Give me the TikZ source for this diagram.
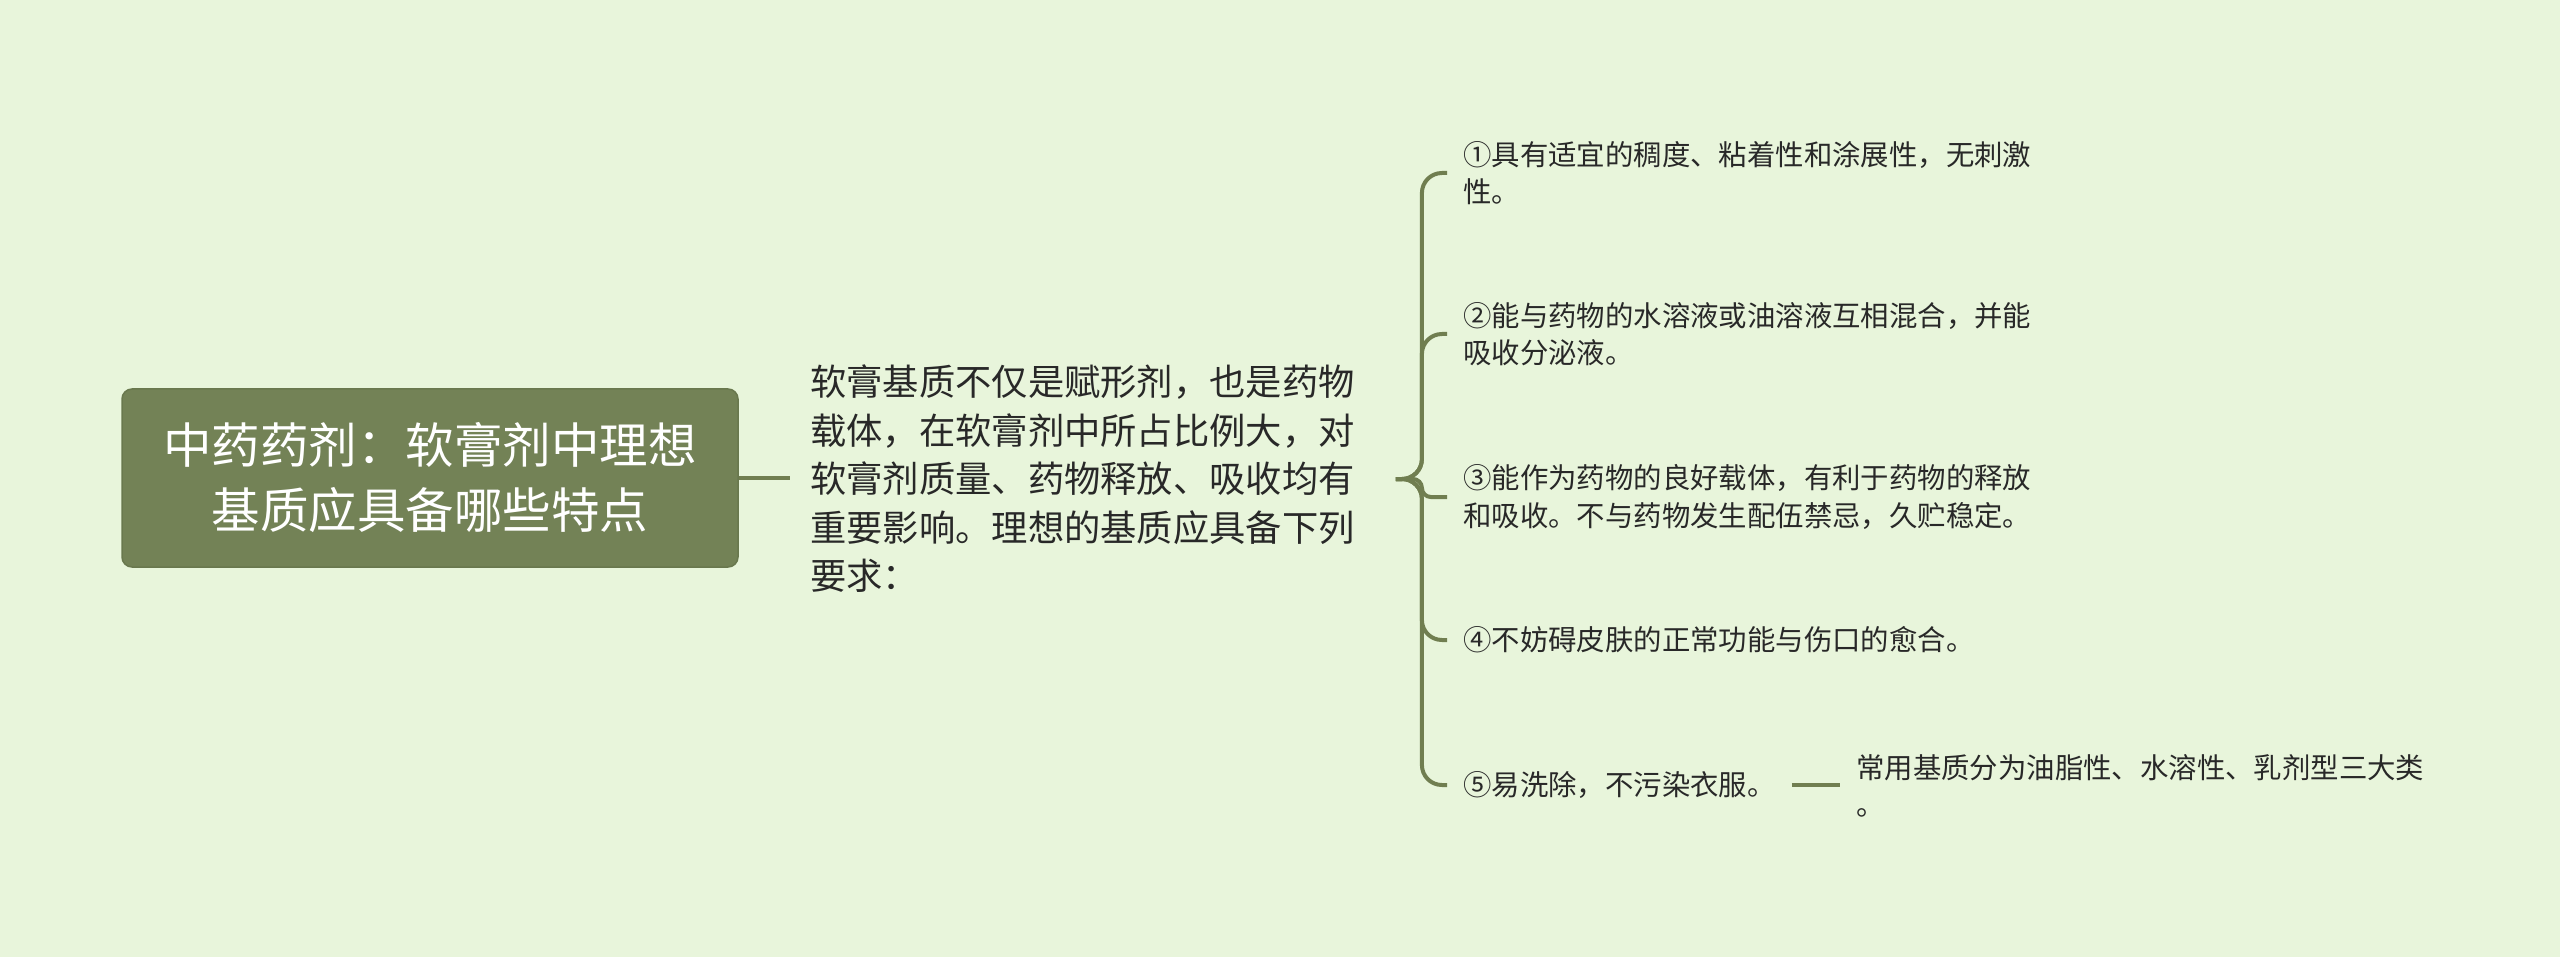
\documentclass[tikz,border=0pt]{standalone}
\usepackage{fontspec}
\newfontfamily\cjk{Noto Sans CJK SC}
\definecolor{bgc}{RGB}{232,245,219}
\definecolor{rootfill}{RGB}{115,130,86}
\definecolor{rootborder}{RGB}{105,120,78}
\definecolor{linec}{RGB}{112,126,80}
\definecolor{textc}{RGB}{40,40,40}
\tikzset{
  rootbox/.style={draw=rootborder, fill=rootfill, line width=1.5pt, rounded corners=10pt,
    minimum width=616pt, minimum height=178pt, align=center, text=white,
    font=\cjk\fontsize{48.5}{65}\selectfont},
  maintext/.style={anchor=west, align=left, inner xsep=20pt, inner ysep=0pt, text=textc,
    font=\cjk\fontsize{36.3}{48.5}\selectfont},
  itembox/.style={anchor=west, align=left, inner xsep=16pt, inner ysep=0pt, text=textc,
    font=\cjk\fontsize{28.4}{37.5}\selectfont},
  conn/.style={draw=linec, line width=4pt},
}
\begin{document}
\begin{tikzpicture}[x=1pt,y=-1pt]
\fill[bgc] (0,0) rectangle (2560,957);
\useasboundingbox (0,0) rectangle (2560,957);

\node[rootbox] (root) at (430,478) {中药药剂：软膏剂中理想\\基质应具备哪些特点};

\node[maintext] (main) at (790,479) {软膏基质不仅是赋形剂，也是药物\\载体，在软膏剂中所占比例大，对\\软膏剂质量、药物释放、吸收均有\\重要影响。理想的基质应具备下列\\要求：};

\node[itembox] (c1) at (1447,173) {①具有适宜的稠度、粘着性和涂展性，无刺激\\性。};
\node[itembox] (c2) at (1447,334) {②能与药物的水溶液或油溶液互相混合，并能\\吸收分泌液。};
\node[itembox] (c3) at (1447,497) {③能作为药物的良好载体，有利于药物的释放\\和吸收。不与药物发生配伍禁忌，久贮稳定。};
\node[itembox] (c4) at (1447,640) {④不妨碍皮肤的正常功能与伤口的愈合。};
\node[itembox] (c5) at (1447,785) {⑤易洗除，不污染衣服。};
\node[itembox] (c6) at (1840,786) {常用基质分为油脂性、水溶性、乳剂型三大类\\。};

\draw[conn] (root.east) -- (main.west |- root.east);

\draw[conn, rounded corners=20pt] (main.east) ++(21,0) -- ++(26,0) |- (c1.west);
\draw[conn, rounded corners=20pt] (main.east) ++(21,0) -- ++(26,0) |- (c2.west);
\draw[conn, rounded corners=9pt] (main.east) ++(21,0) -- ++(26,0) |- (c3.west);
\draw[conn, rounded corners=20pt] (main.east) ++(21,0) -- ++(26,0) |- (c4.west);
\draw[conn, rounded corners=20pt] (main.east) ++(21,0) -- ++(26,0) |- (c5.west);

\draw[conn] (c5.east) -- (c6.west |- c5.east);
\end{tikzpicture}
\end{document}
